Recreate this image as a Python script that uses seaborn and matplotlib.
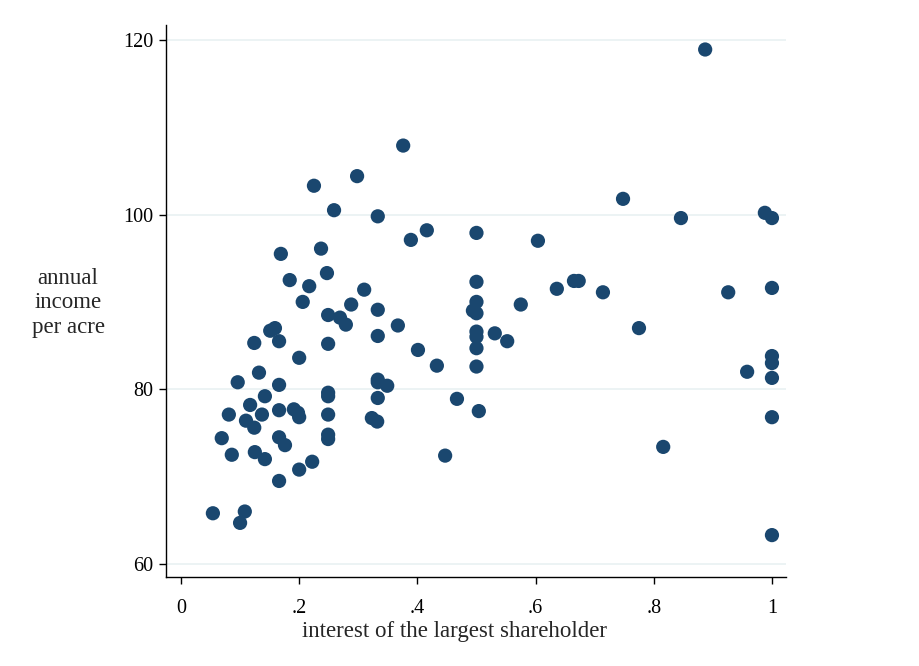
import matplotlib
matplotlib.use("Agg")
import matplotlib.pyplot as plt
import seaborn as sns
import pandas as pd

share = [0.054, 0.069, 0.081, 0.086, 0.096, 0.100, 0.108, 0.110, 0.117, 0.124,
         0.124, 0.125, 0.132, 0.137, 0.142, 0.142, 0.151, 0.159, 0.166, 0.166,
         0.166, 0.166, 0.166, 0.169, 0.176, 0.184, 0.191, 0.198, 0.200, 0.200,
         0.200, 0.206, 0.217, 0.222, 0.225, 0.237, 0.247, 0.249, 0.249, 0.249,
         0.249, 0.249, 0.249, 0.249, 0.259, 0.269, 0.279, 0.288, 0.298, 0.310,
         0.323, 0.332, 0.333, 0.333, 0.333, 0.333, 0.333, 0.333, 0.349, 0.367,
         0.376, 0.389, 0.401, 0.416, 0.433, 0.447, 0.467, 0.494, 0.500, 0.500,
         0.500, 0.500, 0.500, 0.500, 0.500, 0.500, 0.504, 0.531, 0.552, 0.575,
         0.604, 0.636, 0.665, 0.673, 0.714, 0.748, 0.775, 0.816, 0.846, 0.887,
         0.926, 0.958, 0.988, 1.000, 1.000, 1.000, 1.000, 1.000, 1.000, 1.000]

income = [65.8, 74.4, 77.1, 72.5, 80.8, 64.7, 66.0, 76.4, 78.2, 85.3,
          75.6, 72.8, 81.9, 77.1, 79.2, 72.0, 86.7, 87.0, 85.5, 80.5,
          77.6, 74.5, 69.5, 95.5, 73.6, 92.5, 77.7, 77.3, 76.8, 70.8,
          83.6, 90.0, 91.8, 71.7, 103.3, 96.1, 93.3, 88.5, 85.2, 79.6,
          79.2, 77.1, 74.8, 74.3, 100.5, 88.2, 87.4, 89.7, 104.4, 91.4,
          76.7, 76.3, 89.1, 86.1, 81.1, 80.8, 79.0, 99.8, 80.4, 87.3,
          107.9, 97.1, 84.5, 98.2, 82.7, 72.4, 78.9, 89.0, 97.9, 92.3,
          90.0, 88.7, 86.6, 86.0, 84.7, 82.6, 77.5, 86.4, 85.5, 89.7,
          97.0, 91.5, 92.4, 92.4, 91.1, 101.8, 87.0, 73.4, 99.6, 118.9,
          91.1, 82.0, 100.2, 99.6, 91.6, 83.8, 83.0, 81.3, 76.8, 63.3]

xticks = [0, 0.2, 0.4, 0.6, 0.8, 1.0]
xticklabels = ["0", ".2", ".4", ".6", ".8", "1"]
yticks = [60, 80, 100, 120]
yticklabels = ["60", "80", "100", "120"]

df = pd.DataFrame({"share": share, "income": income})

sns.set_style("white")
plt.rcParams["font.family"] = ["Liberation Serif", "DejaVu Serif"]

fig = plt.figure(figsize=(9.2, 6.66), dpi=100)
ax = fig.add_axes([0.1804, 0.1336, 0.6739, 0.8288])

for y in yticks:
    ax.axhline(y, color="#eaf2f3", lw=1.3, zorder=0)

sns.scatterplot(data=df, x="share", y="income", ax=ax, s=105,
                color="#1a476f", edgecolor="none", linewidth=0, zorder=3)

ax.set_xlim(-0.0254, 1.0237)
ax.set_ylim(58.5, 121.7)
ax.set_xticks(xticks)
ax.set_xticklabels(xticklabels)
ax.set_yticks(yticks)
ax.set_yticklabels(yticklabels)
ax.tick_params(axis="both", direction="out", length=5, width=1, color="black",
               labelsize=14.5, labelcolor="black", left=True, bottom=True)
ax.tick_params(axis="x", pad=11)
ax.tick_params(axis="y", pad=4)
for side in ["top", "right"]:
    ax.spines[side].set_visible(False)
for side in ["left", "bottom"]:
    ax.spines[side].set_color("black")
    ax.spines[side].set_linewidth(1)

ax.set_xlabel("interest of the largest shareholder", fontsize=16.5)
ax.xaxis.set_label_coords(0.4655, -0.08)
ax.set_ylabel("")
fig.text(68 / 920, 1 - 303 / 666, "annual\nincome\nper acre", ha="center",
         va="center", fontsize=16.5, linespacing=1.2)

fig.savefig("out.png", dpi=100, facecolor="white")
